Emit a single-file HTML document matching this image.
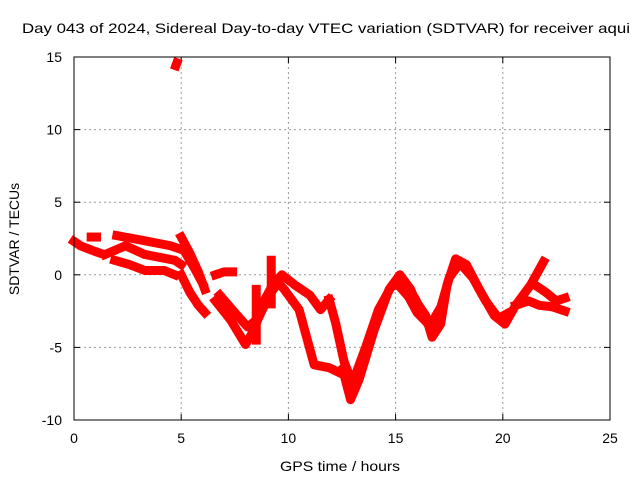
<!DOCTYPE html>
<html><head><meta charset="utf-8"><style>
body{margin:0;background:#fff;width:640px;height:480px;overflow:hidden}
svg{display:block}
text{font-family:"Liberation Sans",sans-serif;font-size:14px;fill:#000}
</style></head><body>
<svg id="chart" width="640" height="480">
<text x="22" y="33" textLength="608" lengthAdjust="spacingAndGlyphs">Day 043 of 2024, Sidereal Day-to-day VTEC variation (SDTVAR) for receiver aqui</text>
<text x="280" y="471" textLength="120" lengthAdjust="spacingAndGlyphs">GPS time / hours</text>
<text x="0" y="0" transform="translate(19,239) rotate(-90)" text-anchor="middle">SDTVAR / TECUs</text>
<g id="grid"></g><g id="ticks"></g><g id="series"></g>
<rect x="74" y="57" width="536" height="363" fill="none" stroke="#000" stroke-width="1"/>
</svg>
<script>
const xTicks=[0,5,10,15,20,25];
const yTicks=[-10,-5,0,5,10,15];
const tA=[0,0.3,1.0,1.2];
const vA=[2.3,2.0,1.6,1.5];
const tB=[0.8,1.05];
const vB=[2.6,2.6];
const tC=[2.0,3.1,4.5,4.9];
const vC=[2.7,2.4,2.0,1.8];
const tD=[1.45,2.4,3.3,4.7,5.0];
const vD=[1.4,2.0,1.4,1.0,0.7];
const tE=[1.9,2.6,3.3,4.2,4.7];
const vE=[1.0,0.7,0.3,0.3,0.0];
const tF=[5.0,5.4,5.8,6.1];
const vF=[2.6,1.5,0.2,-1.0];
const tF2=[5.2,5.6,6.0];
const vF2=[1.5,0.5,-0.6];
const tG=[5.0,5.4,5.8,6.1];
const vG=[0.0,-1.2,-2.1,-2.6];
const tH=[6.6,7.0,7.4];
const vH=[0.0,0.2,0.2];
const tI=[6.6,7.3,8.0,8.4,8.9,9.3,9.7,10.3,11.0,11.5,11.9];
const vI=[-1.8,-3.1,-4.8,-3.8,-1.7,-0.6,0.0,-0.7,-1.4,-2.4,-1.7];
const tI2=[6.8,7.5,8.1,8.6,9.1,9.5];
const vI2=[-1.4,-2.6,-3.6,-3.0,-1.4,-0.6];
const tJ=[9.5,9.8,10.5,11.2,11.9,12.6,12.9,13.3,14.0,14.7,15.2,15.7,15.9,16.4,16.7,17.1,17.4,17.8,18.3,18.9,19.6,20.1,20.6,21.3,21.9];
const vJ=[-0.5,-1.0,-2.4,-6.2,-6.4,-6.9,-8.6,-7.2,-3.8,-1.0,0.0,-1.0,-1.7,-2.8,-4.3,-3.4,-0.7,1.1,0.7,-1.0,-2.8,-3.4,-2.1,-0.7,0.9];
const tJ2=[12.5,13.0,13.6,14.2,14.8,15.3,15.9,16.5,17.0,17.5,18.0,18.6,19.2,19.8,20.3];
const vJ2=[-6.5,-7.4,-5.0,-2.4,-0.8,-0.6,-1.6,-3.4,-2.8,-0.2,0.8,-0.2,-1.8,-3.0,-2.6];
const tK=[11.9,12.2,12.6,13.0];
const vK=[-1.7,-3.3,-6.0,-7.5];
const tL=[15.0,15.6,16.0,16.6,17.0];
const vL=[-0.5,-1.5,-2.6,-3.5,-2.5];
const tM=[20.6,21.2,21.7,22.3,22.9];
const vM=[-2.1,-1.8,-2.1,-2.2,-2.5];
const tN=[21.5,22.0,22.5,22.9];
const vN=[-0.7,-1.2,-1.8,-1.6];
const tS1=[8.5,8.5];const vS1=[-4.5,-1.0];
const tS2=[9.2,9.2];const vS2=[-2.0,1.0];
const tO=[4.75,4.8];const vO=[14.4,14.6];
const series=[[tA,vA],[tB,vB],[tC,vC],[tD,vD],[tE,vE],[tF,vF],[tF2,vF2],[tG,vG],[tH,vH],[tI,vI],[tI2,vI2],[tJ,vJ],[tJ2,vJ2],[tK,vK],[tL,vL],[tM,vM],[tN,vN],[tS1,vS1],[tS2,vS2],[tO,vO]];
const X=t=>74+t*536/25;
const Y=v=>57+(15-v)*363/25;
const NS="http://www.w3.org/2000/svg";
const grid=document.getElementById('grid'),ticks=document.getElementById('ticks'),ser=document.getElementById('series');
function mk(tag,attrs,parent){const e=document.createElementNS(NS,tag);for(const k in attrs)e.setAttribute(k,attrs[k]);parent.appendChild(e);return e;}
xTicks.forEach(t=>{
 if(t>0&&t<25){const g=mk('line',{x1:X(t),x2:X(t),y1:57,y2:420,stroke:'#999','stroke-dasharray':'2,3'},grid);
 
 }
 mk('line',{x1:X(t),x2:X(t),y1:420,y2:414,stroke:'#000'},ticks);
 mk('line',{x1:X(t),x2:X(t),y1:57,y2:63,stroke:'#000'},ticks);
 const l=mk('text',{x:X(t),y:443,'text-anchor':'middle'},ticks);l.textContent=t;
 
 
});
yTicks.forEach(v=>{
 if(v>-10&&v<15){const g=mk('line',{x1:74,x2:610,y1:Y(v),y2:Y(v),stroke:'#999','stroke-dasharray':'2,3'},grid);
 
 }
 mk('line',{x1:74,x2:80,y1:Y(v),y2:Y(v),stroke:'#000'},ticks);
 mk('line',{x1:604,x2:610,y1:Y(v),y2:Y(v),stroke:'#000'},ticks);
 const l=mk('text',{x:62,y:Y(v)+5,'text-anchor':'end'},ticks);l.textContent=v;
 
 
});
series.forEach(([ts,vs])=>{
 const pts=ts.map((t,i)=>X(t)+','+Y(vs[i])).join(' ');
 const p=mk('polyline',{points:pts,fill:'none',stroke:'#f00','stroke-width':9,'stroke-linejoin':'round','stroke-linecap':'square'},ser);
 
 
});
</script>
</body></html>
